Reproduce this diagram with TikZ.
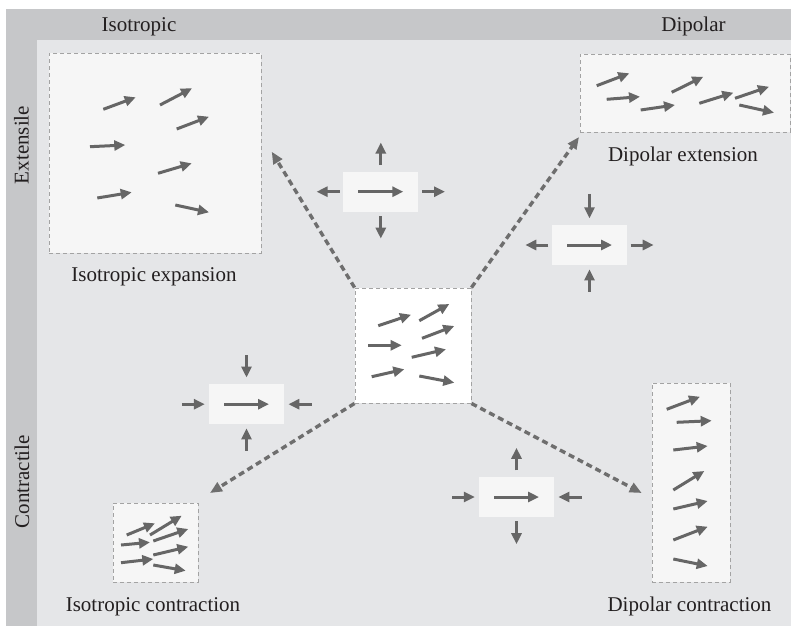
\documentclass[tikz,border=0pt]{standalone}
\usepackage{fontspec}
\setmainfont{Liberation Serif}
\usetikzlibrary{arrows.meta,calc}

\definecolor{bandgrey}{HTML}{C6C7C9}
\definecolor{fieldgrey}{HTML}{E5E6E8}
\definecolor{panelfill}{HTML}{F6F6F6}
\definecolor{panelline}{HTML}{A3A3A3}
\definecolor{arrowgrey}{HTML}{666666}
\definecolor{linkgrey}{HTML}{6E6E6E}
\definecolor{inkcol}{HTML}{231F20}

\begin{document}
\begin{tikzpicture}[x=1pt,y=-1pt,
  panel/.style={draw=panelline, fill=panelfill, line width=0.9pt,
    dash pattern=on 4pt off 3pt, inner sep=0pt},
  stressbox/.style={fill=panelfill, draw=none, minimum width=75pt,
    minimum height=40pt, inner sep=0pt},
  vec/.style={draw=arrowgrey, line width=3pt,
    -{Triangle[length=11pt,width=10pt]}},
  link/.style={draw=linkgrey, line width=3.4pt, dash pattern=on 6pt off 4pt,
    -{Triangle[length=12pt,width=10pt]}},
  txt/.style={text=inkcol, font=\fontsize{21}{25}\selectfont,
    anchor=base, inner sep=0pt},
]

% background bands
\fill[white] (0,0) rectangle (791,627);
\fill[bandgrey] (6,9) rectangle (791,626);
\fill[fieldgrey] (37,40) rectangle (791,626);
\useasboundingbox (0,0) rectangle (791,627);

% axis headings
\node[txt] (hIso) at (139,31.7) {Isotropic};
\node[txt] (hDip) at (693.5,31.7) {Dipolar};
\node[txt, rotate=90] (hExt) at (28.7,145) {Extensile};
\node[txt, rotate=90] (hCon) at (29,481.7) {Contractile};

% panels
\node[panel, minimum width=212pt, minimum height=200pt] (ie) at (155,153) {};
\node[panel, minimum width=210pt, minimum height=78pt] (de) at (685,93) {};
\node[panel, fill=white, minimum width=116pt, minimum height=115pt] (ctr) at (413,345.5) {};
\node[panel, minimum width=85pt, minimum height=79pt] (ic) at (155.5,542.5) {};
\node[panel, minimum width=78pt, minimum height=199pt] (dc) at (691,482.5) {};

% panel captions
\node[txt] (tie) at (154,281.7) {Isotropic expansion};
\node[txt] (tde) at (683,161.7) {Dipolar extension};
\node[txt] (tic) at (153,611.7) {Isotropic contraction};
\node[txt] (tdc) at (689.5,611.7) {Dipolar contraction};

% director field: isotropic expansion
\draw[vec] (103.3,109.3) -- (135.7,97.3);
\draw[vec] (160,105) -- (192,88.3);
\draw[vec] (176.7,129) -- (209,116.7);
\draw[vec] (90,146.7) -- (125.3,145);
\draw[vec] (158,173.3) -- (191.7,163.3);
\draw[vec] (97.3,198) -- (131.7,192.3);
\draw[vec] (175.3,205) -- (209,212.3);

% director field: dipolar extension
\draw[vec] (596.7,85.7) -- (629.3,73.3);
\draw[vec] (606.7,99.3) -- (640,96.7);
\draw[vec] (640.7,110) -- (675,105);
\draw[vec] (671.7,92.3) -- (703.3,76.7);
\draw[vec] (699.3,103.3) -- (733.3,92.7);
\draw[vec] (735,98.3) -- (769,86.7);
\draw[vec] (739.3,105) -- (774,112.7);

% director field: initial state
\draw[vec] (378.3,325.7) -- (411,314.7);
\draw[vec] (419.3,320.7) -- (449.3,304);
\draw[vec] (422,338.3) -- (454.3,326);
\draw[vec] (368,345.3) -- (401.7,345.3);
\draw[vec] (411.7,357.3) -- (446,349.3);
\draw[vec] (371.7,376.7) -- (404.3,369.3);
\draw[vec] (419.3,376) -- (454.3,382.7);

% director field: isotropic contraction
\draw[vec] (126.7,535) -- (155,523.3);
\draw[vec] (150,535) -- (181.7,515.7);
\draw[vec] (153.3,541) -- (188.3,529);
\draw[vec] (121,545) -- (150,542.3);
\draw[vec] (153.3,555) -- (188.3,546.7);
\draw[vec] (121,562.7) -- (153.3,559);
\draw[vec] (153.3,565) -- (185.7,570.7);

% director field: dipolar contraction
\draw[vec] (666.7,409.3) -- (700,396.7);
\draw[vec] (676.7,422.3) -- (711.7,420.7);
\draw[vec] (673.3,450) -- (707.7,446);
\draw[vec] (673.3,490) -- (704.3,471);
\draw[vec] (673.3,509) -- (707.7,501);
\draw[vec] (673.3,540) -- (707.7,526.7);
\draw[vec] (673.3,559) -- (707.7,566);

% transitions from the initial state
\coordinate (ieT) at (271.7,151.7);
\coordinate (deT) at (579,137);
\coordinate (icT) at (210,493);
\coordinate (dcT) at (641.7,493);
\draw[link] (ctr.north west) -- (ieT);
\draw[link] (ctr.north east) -- (deT);
\draw[link] (ctr.south west) -- (icT);
\draw[link] (ctr.south east) -- (dcT);

% stress symbols
\node[stressbox] (s1) at (380.8,191.7) {};
\node[stressbox] (s2) at (589.5,245) {};
\node[stressbox] (s3) at (246.5,404.2) {};
\node[stressbox] (s4) at (516.5,497) {};
\foreach \s in {s1,s2,s3,s4}
  \draw[vec] ([xshift=-22.5pt]\s.center) -- ([xshift=22.5pt]\s.center);

% s1: outward on all sides
\draw[vec] ([xshift=-3.5pt]s1.west) -- ([xshift=-26.5pt]s1.west);
\draw[vec] ([xshift=3.5pt]s1.east) -- ([xshift=26.5pt]s1.east);
\draw[vec] ([yshift=6.5pt]s1.north) -- ([yshift=29pt]s1.north);
\draw[vec] ([yshift=-4.2pt]s1.south) -- ([yshift=-26.7pt]s1.south);

% s2: outward along, inward across
\draw[vec] ([xshift=-3.5pt]s2.west) -- ([xshift=-26.5pt]s2.west);
\draw[vec] ([xshift=3.5pt]s2.east) -- ([xshift=26.5pt]s2.east);
\draw[vec] ([yshift=31pt]s2.north) -- ([yshift=6.5pt]s2.north);
\draw[vec] ([yshift=-26.7pt]s2.south) -- ([yshift=-4.2pt]s2.south);

% s3: inward on all sides
\draw[vec] ([xshift=-27pt]s3.west) -- ([xshift=-4pt]s3.west);
\draw[vec] ([xshift=27.5pt]s3.east) -- ([xshift=4.2pt]s3.east);
\draw[vec] ([yshift=29pt]s3.north) -- ([yshift=6.5pt]s3.north);
\draw[vec] ([yshift=-26.5pt]s3.south) -- ([yshift=-4pt]s3.south);

% s4: inward along, outward across
\draw[vec] ([xshift=-26.5pt]s4.west) -- ([xshift=-4pt]s4.west);
\draw[vec] ([xshift=27.5pt]s4.east) -- ([xshift=4.2pt]s4.east);
\draw[vec] ([yshift=6.5pt]s4.north) -- ([yshift=29pt]s4.north);
\draw[vec] ([yshift=-4.2pt]s4.south) -- ([yshift=-27pt]s4.south);

\end{tikzpicture}
\end{document}
